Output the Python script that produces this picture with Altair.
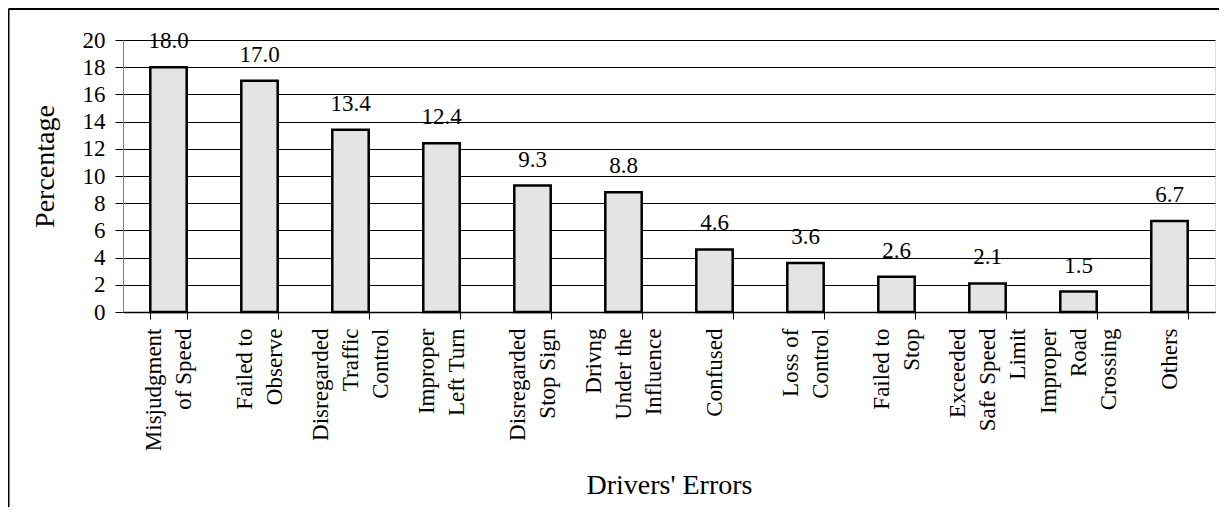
import altair as alt
import pandas as pd

categories = [
    "Misjudgment|of Speed",
    "Failed to|Observe",
    "Disregarded|Traffic|Control",
    "Improper|Left Turn",
    "Disregarded|Stop Sign",
    "Drivng|Under the|Influence",
    "Confused",
    "Loss of|Control",
    "Failed to|Stop",
    "Exceeded|Safe Speed|Limit",
    "Improper|Road|Crossing",
    "Others",
]
values = [18.0, 17.0, 13.4, 12.4, 9.3, 8.8, 4.6, 3.6, 2.6, 2.1, 1.5, 6.7]
y_ticks = [0, 2, 4, 6, 8, 10, 12, 14, 16, 18, 20]

df = pd.DataFrame({"cat": categories, "val": values})
df["lab"] = [f"{v:.1f}" for v in values]

FONT = "Liberation Serif"
LH = 30
FS = 23

x_enc = alt.X(
    "cat:N",
    sort=categories,
    scale=alt.Scale(paddingInner=0.6, paddingOuter=0.3),
    axis=alt.Axis(
        title="Drivers' Errors",
        titleFont=FONT,
        titleFontSize=28,
        titleFontWeight="normal",
        titleColor="black",
        titlePadding=0,
        titleY=181,
        titleBaseline="alphabetic",
        labelExpr="split(datum.label, '|')",
        labelAngle=-90,
        labelAlign="right",
        labelBaseline="middle",
        labelFont=FONT,
        labelFontSize=FS,
        labelColor="black",
        labelLineHeight=LH,
        labelPadding=9,
        labelLimit=0,
        labelOverlap=False,
        labelOffset={
            "condition": [
                {"test": "length(split(datum.value, '|')) == 3", "value": -LH},
                {"test": "length(split(datum.value, '|')) == 2", "value": -LH / 2},
            ],
            "value": 0,
        },
        tickSize=7,
        tickColor="black",
        tickBand="extent",
        domainColor="black",
        domainWidth=1.5,
        grid=False,
    ),
)

y_enc = alt.Y(
    "val:Q",
    scale=alt.Scale(domain=[0, 20], nice=False),
    axis=alt.Axis(
        title="Percentage",
        titleFont=FONT,
        titleFontSize=28,
        titleFontWeight="normal",
        titleColor="black",
        titleAngle=-90,
        titleX=-78,
        titleY=126,
        titleAlign="center",
        titleBaseline="middle",
        values=y_ticks,
        tickCount=11,
        labelOverlap=False,
        labelFlush=False,
        labelFont=FONT,
        labelFontSize=FS,
        labelColor="black",
        labelPadding=10,
        tickSize=8,
        tickColor="black",
        domainColor="#808080",
        grid=True,
        gridColor="black",
        gridWidth=1,
        gridOpacity=1,
    ),
)

bars = alt.Chart(df).mark_bar(
    fill="#e4e4e4", stroke="black", strokeWidth=2.5
).encode(x=x_enc, y=y_enc)

labels = alt.Chart(df).mark_text(
    font=FONT, fontSize=FS, color="black", baseline="alphabetic", dy=-19
).encode(x=x_enc, y=y_enc, text="lab:N")

frame_df = pd.DataFrame({"a": [0]})
frame_left = alt.Chart(frame_df).mark_rule(color="black", strokeWidth=2).encode(
    x=alt.value(-114.5), y=alt.value(-31), y2=alt.value(480)
)
frame_top = alt.Chart(frame_df).mark_rule(color="black", strokeWidth=2).encode(
    x=alt.value(-114.5), x2=alt.value(1100), y=alt.value(-31)
)

chart = (
    alt.layer(bars, labels, frame_left, frame_top)
    .properties(
        width=1092,
        height=272,
        autosize="none",
        padding={"left": 115, "top": 32, "right": 4, "bottom": 195},
        background="white",
    )
    .configure_view(fill="#c0c0c0", stroke="#808080", strokeWidth=2)
    .configure_text(font=FONT)
    .configure(font=FONT)
)

chart.save("out.html", embed_options={"renderer": "svg", "actions": False})
